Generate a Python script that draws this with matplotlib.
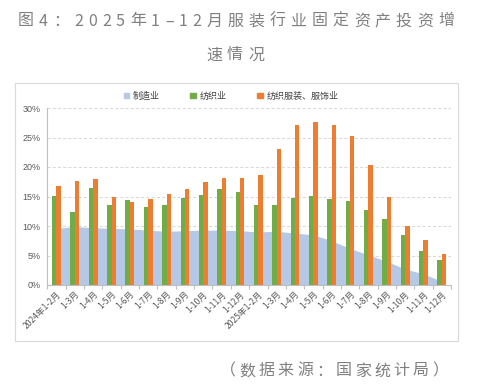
import numpy as np
import matplotlib
matplotlib.use("Agg")
import matplotlib.pyplot as plt
from matplotlib.patches import Rectangle, Patch
from matplotlib.font_manager import FontProperties

CJK = ["Noto Sans CJK SC", "DejaVu Sans"]
plt.rcParams["font.family"] = CJK

# -----------------------------
# data
# -----------------------------
categories = ["2024年1-2月", "1-3月", "1-4月", "1-5月", "1-6月", "1-7月", "1-8月",
              "1-9月", "1-10月", "1-11月", "1-12月",
              "2025年1-2月", "1-3月", "1-4月", "1-5月", "1-6月", "1-7月", "1-8月",
              "1-9月", "1-10月", "1-11月", "1-12月"]
manufacturing = [9.6, 9.9, 9.7, 9.6, 9.5, 9.3, 9.1, 9.2, 9.3, 9.3, 9.2,
                 9.0, 9.1, 8.8, 8.5, 7.5, 6.2, 5.1, 4.0, 2.7, 1.9, 0.6]
textile = [15.1, 12.4, 16.4, 13.5, 14.4, 13.2, 13.5, 14.7, 15.2, 16.3, 15.7,
           13.6, 13.5, 14.7, 15.1, 14.6, 14.2, 12.7, 11.2, 8.4, 5.8, 4.3]
apparel = [16.7, 17.6, 17.9, 14.9, 14.0, 14.6, 15.5, 16.3, 17.5, 18.2, 18.1,
           18.6, 23.0, 27.2, 27.7, 27.2, 25.3, 20.3, 14.9, 10.0, 7.7, 5.2]
series_names = ["制造业", "纺织业", "纺织服装、服饰业"]
yticks = [0, 5, 10, 15, 20, 25, 30]

title_line1 = "图4：2025年1–12月服装行业固定资产投资增"
title_line2 = "速情况"
source_note = "（数据来源：国家统计局）"

C_AREA = "#B5C8E6"
C_GREEN = "#70AD47"
C_ORANGE = "#ED7D31"
C_AXIS = "#BFBFBF"
C_GRID = "#D9D9D9"
C_TEXT = "#595959"
C_TITLE = "#808080"

W, H = 493, 391
DPI = 100


def spaced_text(fig, text, cx, cy, size, color, width=None, gap=None):
    """Draw text char by char with letter spacing (pixel coords, y from top)."""
    r = fig.canvas.get_renderer()
    em = size * DPI / 72.0
    arts, slots = [], []
    for ch in text:
        t = fig.text(0, 1 - cy / H, ch, fontsize=size, color=color,
                     family=CJK, ha="center", va="center")
        wpx = t.get_window_extent(r).width
        slots.append(em if ord(ch) > 0x2000 and ch != "–" else wpx)
        arts.append(t)
    if width is not None:
        gap = (width - sum(slots)) / (len(text) - 1)
    total = sum(slots) + gap * (len(text) - 1)
    x = cx - total / 2
    for t, s in zip(arts, slots):
        t.set_x((x + s / 2) / W)
        x += s + gap
    return gap


fig = plt.figure(figsize=(W / DPI, H / DPI), dpi=DPI)
fig.patch.set_facecolor("white")

# chart frame
fig.add_artist(Rectangle((15 / W, 1 - 341 / H), 443 / W, 258 / H,
                         transform=fig.transFigure, fill=False,
                         ec=C_GRID, lw=0.8))

ax = fig.add_axes([47.3 / W, 1 - 285 / H, 403.7 / W, 177 / H])
x = np.arange(len(categories))

ax.fill_between(x, manufacturing, 0, color=C_AREA, lw=0, zorder=1)
ax.bar(x - 0.12, textile, width=0.24, color=C_GREEN, zorder=2)
ax.bar(x + 0.12, apparel, width=0.24, color=C_ORANGE, zorder=2)

ax.set_xlim(-0.5, len(categories) - 0.5)
ax.set_ylim(0, 30)
ax.set_yticks(yticks)
ax.set_yticklabels([f"{v}%" for v in yticks], family=["Liberation Sans"])
ax.yaxis.grid(True, color=C_GRID, ls=(0, (3, 2)), lw=0.75)
ax.set_axisbelow(True)

for s in ["top", "right"]:
    ax.spines[s].set_visible(False)
for s in ["left", "bottom"]:
    ax.spines[s].set_color(C_AXIS)
    ax.spines[s].set_linewidth(0.8)

ax.tick_params(axis="y", length=0, pad=5, labelsize=6.5, labelcolor=C_TEXT)
ax.set_xticks(x)
ax.set_xticklabels(categories, rotation=45, ha="right", va="top",
                   rotation_mode="anchor", fontsize=6.2, color=C_TEXT)
ax.tick_params(axis="x", which="major", length=0, pad=3.5)
ax.set_xticks(np.arange(len(categories) + 1) - 0.5, minor=True)
ax.tick_params(axis="x", which="minor", length=3, color=C_AXIS, width=0.8)

handles = [Patch(color=C_AREA), Patch(color=C_GREEN), Patch(color=C_ORANGE)]
ax.legend(handles, series_names, loc="center", bbox_to_anchor=(0.455, 1 + 12 / 177),
          ncol=3, frameon=False, prop=FontProperties(family=CJK, size=6.5),
          handlelength=0.6, handleheight=0.6, handletextpad=0.4,
          columnspacing=3.4, borderaxespad=0, labelcolor="#404040")

fig.canvas.draw()
g = spaced_text(fig, title_line1, 236, 21, 11.5, C_TITLE, width=436)
spaced_text(fig, title_line2, 235, 55, 11.5, C_TITLE, gap=g)
spaced_text(fig, source_note, 334, 371, 11.5, C_TITLE, width=228)

fig.savefig("out.png", dpi=DPI)
